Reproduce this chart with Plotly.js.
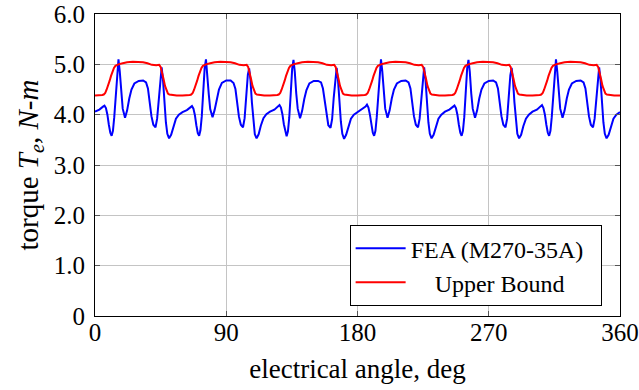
<!DOCTYPE html>
<html>
<head>
<meta charset="utf-8">
<script src="https://cdn.plot.ly/plotly-3.0.1.min.js"></script>
<style>html,body{margin:0;padding:0;background:#fff;}#chart{width:639px;height:390px;}</style>
</head>
<body>
<div id="chart"></div>
<script>
// electrical angle (deg) for the FEA torque curve
var feaAngle = [
  0,3,5.5,6.5,7.5,8.5,9.5,10.5,11.4,12.3,13.2,14.2,15.2,16.1,17,18,19,20.6,22,23.5,25,27,30,33,35,36.3,37.5,38.7,40,41.5,42.6,43.7,44.8,45.7,46.6,47.6,48.6,49.6,50.8,52.2,53.7,55.5,57.5,
  60,63,65.5,66.5,67.5,68.5,69.5,70.5,71.4,72.3,73.2,74.2,75.2,76.1,77,78,79,80.6,82,83.5,85,87,90,93,95,96.3,97.5,98.7,100,101.5,102.6,103.7,104.8,105.7,106.6,107.6,108.6,109.6,110.8,112.2,113.7,115.5,117.5,
  120,123,125.5,126.5,127.5,128.5,129.5,130.5,131.4,132.3,133.2,134.2,135.2,136.1,137,138,139,140.6,142,143.5,145,147,150,153,155,156.3,157.5,158.7,160,161.5,162.6,163.7,164.8,165.7,166.6,167.6,168.6,169.6,170.8,172.2,173.7,175.5,177.5,
  180,183,185.5,186.5,187.5,188.5,189.5,190.5,191.4,192.3,193.2,194.2,195.2,196.1,197,198,199,200.6,202,203.5,205,207,210,213,215,216.3,217.5,218.7,220,221.5,222.6,223.7,224.8,225.7,226.6,227.6,228.6,229.6,230.8,232.2,233.7,235.5,237.5,
  240,243,245.5,246.5,247.5,248.5,249.5,250.5,251.4,252.3,253.2,254.2,255.2,256.1,257,258,259,260.6,262,263.5,265,267,270,273,275,276.3,277.5,278.7,280,281.5,282.6,283.7,284.8,285.7,286.6,287.6,288.6,289.6,290.8,292.2,293.7,295.5,297.5,
  300,303,305.5,306.5,307.5,308.5,309.5,310.5,311.4,312.3,313.2,314.2,315.2,316.1,317,318,319,320.6,322,323.5,325,327,330,333,335,336.3,337.5,338.7,340,341.5,342.6,343.7,344.8,345.7,346.6,347.6,348.6,349.6,350.8,352.2,353.7,355.5,357.5,360
];
// FEA (M270-35A) torque, N-m
var feaTorque = [
  4.06,4.10,4.16,4.18,4.13,4.00,3.80,3.64,3.58,3.68,3.95,4.42,4.92,5.10,4.85,4.42,4.12,3.94,4.08,4.32,4.50,4.62,4.67,4.68,4.64,4.52,4.25,3.97,3.80,3.75,3.92,4.35,4.78,4.94,4.70,4.25,3.85,3.62,3.53,3.60,3.77,3.92,4.00,
  4.05,4.09,4.15,4.17,4.12,3.99,3.79,3.63,3.58,3.69,3.96,4.43,4.93,5.10,4.84,4.41,4.11,3.95,4.09,4.33,4.50,4.63,4.68,4.68,4.63,4.51,4.24,3.96,3.80,3.75,3.93,4.36,4.79,4.92,4.69,4.24,3.84,3.61,3.53,3.61,3.78,3.93,4.01,
  4.06,4.10,4.17,4.19,4.14,4.01,3.81,3.64,3.57,3.67,3.94,4.41,4.91,5.09,4.85,4.42,4.12,3.93,4.07,4.31,4.49,4.62,4.67,4.67,4.64,4.52,4.25,3.97,3.79,3.74,3.91,4.34,4.77,4.93,4.70,4.25,3.86,3.62,3.52,3.60,3.76,3.92,4.00,
  4.05,4.10,4.16,4.20,4.14,4.00,3.80,3.64,3.58,3.68,3.95,4.42,4.92,5.10,4.86,4.43,4.12,3.94,4.08,4.32,4.50,4.62,4.67,4.68,4.64,4.52,4.25,3.97,3.80,3.75,3.92,4.35,4.78,4.94,4.70,4.25,3.85,3.62,3.53,3.60,3.77,3.92,4.00,
  4.06,4.10,4.16,4.18,4.13,4.00,3.80,3.64,3.58,3.68,3.95,4.42,4.92,5.09,4.85,4.42,4.12,3.94,4.08,4.32,4.50,4.62,4.67,4.68,4.64,4.52,4.25,3.97,3.80,3.75,3.92,4.35,4.78,4.93,4.70,4.25,3.85,3.62,3.53,3.60,3.77,3.92,4.00,
  4.06,4.10,4.16,4.19,4.13,4.00,3.80,3.64,3.58,3.68,3.95,4.42,4.92,5.10,4.85,4.42,4.12,3.94,4.08,4.32,4.50,4.62,4.67,4.68,4.64,4.52,4.25,3.97,3.80,3.75,3.92,4.35,4.78,4.94,4.70,4.25,3.85,3.62,3.53,3.60,3.77,3.92,4.00,4.05
];
// electrical angle (deg) for the upper bound curve
var ubAngle = [
  0,3,5,6,7,8,9,10,11,12,13,14,16,19,22,26,30,33,36,39,42,44,45,46,47,48,49,50,51,53,56,
  60,63,65,66,67,68,69,70,71,72,73,74,76,79,82,86,90,93,96,99,102,104,105,106,107,108,109,110,111,113,116,
  120,123,125,126,127,128,129,130,131,132,133,134,136,139,142,146,150,153,156,159,162,164,165,166,167,168,169,170,171,173,176,
  180,183,185,186,187,188,189,190,191,192,193,194,196,199,202,206,210,213,216,219,222,224,225,226,227,228,229,230,231,233,236,
  240,243,245,246,247,248,249,250,251,252,253,254,256,259,262,266,270,273,276,279,282,284,285,286,287,288,289,290,291,293,296,
  300,303,305,306,307,308,309,310,311,312,313,314,316,319,322,326,330,333,336,339,342,344,345,346,347,348,349,350,351,353,356,360
];
// upper bound torque, N-m
var ubTorque = [
  4.38,4.38,4.39,4.40,4.43,4.50,4.57,4.67,4.77,4.87,4.93,4.97,5.00,5.02,5.04,5.05,5.05,5.04,5.02,4.99,4.98,4.99,4.95,4.85,4.71,4.57,4.47,4.42,4.40,4.39,4.38,
  4.38,4.38,4.39,4.40,4.43,4.50,4.57,4.67,4.77,4.87,4.93,4.97,5.00,5.02,5.04,5.05,5.05,5.04,5.02,4.99,4.98,4.99,4.95,4.85,4.71,4.57,4.47,4.42,4.40,4.39,4.38,
  4.38,4.38,4.39,4.40,4.43,4.50,4.57,4.67,4.77,4.87,4.93,4.97,5.00,5.02,5.04,5.05,5.05,5.04,5.02,4.99,4.98,4.99,4.95,4.85,4.71,4.57,4.47,4.42,4.40,4.39,4.38,
  4.38,4.38,4.39,4.40,4.43,4.50,4.57,4.67,4.77,4.87,4.93,4.97,5.00,5.02,5.04,5.05,5.05,5.04,5.02,4.99,4.98,4.99,4.95,4.85,4.71,4.57,4.47,4.42,4.40,4.39,4.38,
  4.38,4.38,4.39,4.40,4.43,4.50,4.57,4.67,4.77,4.87,4.93,4.97,5.00,5.02,5.04,5.05,5.05,5.04,5.02,4.99,4.98,4.99,4.95,4.85,4.71,4.57,4.47,4.42,4.40,4.39,4.38,
  4.38,4.38,4.39,4.40,4.43,4.50,4.57,4.67,4.77,4.87,4.93,4.97,5.00,5.02,5.04,5.05,5.05,5.04,5.02,4.99,4.98,4.99,4.95,4.85,4.71,4.57,4.47,4.42,4.40,4.39,4.38,4.38
];
var xTickVals = [0, 90, 180, 270, 360];
var xTickText = ['0', '90', '180', '270', '360'];
var yTickVals = [0, 1, 2, 3, 4, 5, 6];
var yTickText = ['0', '1.0', '2.0', '3.0', '4.0', '5.0', '6.0'];

var NB = '\u00a0';
var serif = 'Liberation Serif, Times New Roman, serif';

var traces = [
  {x: feaAngle, y: feaTorque, type: 'scatter', mode: 'lines', name: 'FEA (M270-35A)' + NB + NB,
   line: {color: '#0000ff', width: 2}},
  {x: ubAngle, y: ubTorque, type: 'scatter', mode: 'lines', name: NB+NB+NB+NB+'Upper Bound',
   line: {color: '#ff0000', width: 2}}
];

var layout = {
  width: 639, height: 390,
  margin: {l: 95, r: 19, t: 14, b: 74},
  paper_bgcolor: '#ffffff', plot_bgcolor: '#ffffff',
  font: {family: serif, size: 24, color: '#000'},
  showlegend: true,
  xaxis: {
    range: [0, 360], tickvals: xTickVals, ticktext: xTickText,
    showgrid: true, gridcolor: '#c4c4c4', gridwidth: 1, zeroline: false,
    showline: true, linecolor: '#000', linewidth: 1, mirror: 'ticks',
    ticks: 'inside', ticklen: 5, tickcolor: '#555', tickwidth: 1,
    ticklabelstandoff: -6,
    tickfont: {family: serif, size: 25, color: '#000'},
    title: {text: 'electrical angle, deg', font: {family: serif, size: 27, color: '#000'}, standoff: 14},
    automargin: false
  },
  yaxis: {
    range: [0, 6], tickvals: yTickVals, ticktext: yTickText,
    showgrid: true, gridcolor: '#c4c4c4', gridwidth: 1, zeroline: false,
    showline: true, linecolor: '#000', linewidth: 1, mirror: 'ticks',
    ticks: 'inside', ticklen: 5, tickcolor: '#555', tickwidth: 1,
    ticklabelstandoff: 4,
    tickfont: {family: serif, size: 25, color: '#000'},
    title: {text: 'torque <i>T<sub>e</sub></i>, <i>N</i>-<i>m</i>', font: {family: serif, size: 29, color: '#000'}, standoff: 6},
    automargin: false
  },
  legend: {
    x: 0.965, xanchor: 'right', y: 0.033, yanchor: 'bottom',
    bgcolor: '#ffffff', bordercolor: '#000', borderwidth: 1,
    font: {family: serif, size: 24, color: '#000'},
    itemwidth: 50, tracegroupgap: 0
  }
};

Plotly.newPlot('chart', traces, layout, {displayModeBar: false, staticPlot: true});
</script>
</body>
</html>
